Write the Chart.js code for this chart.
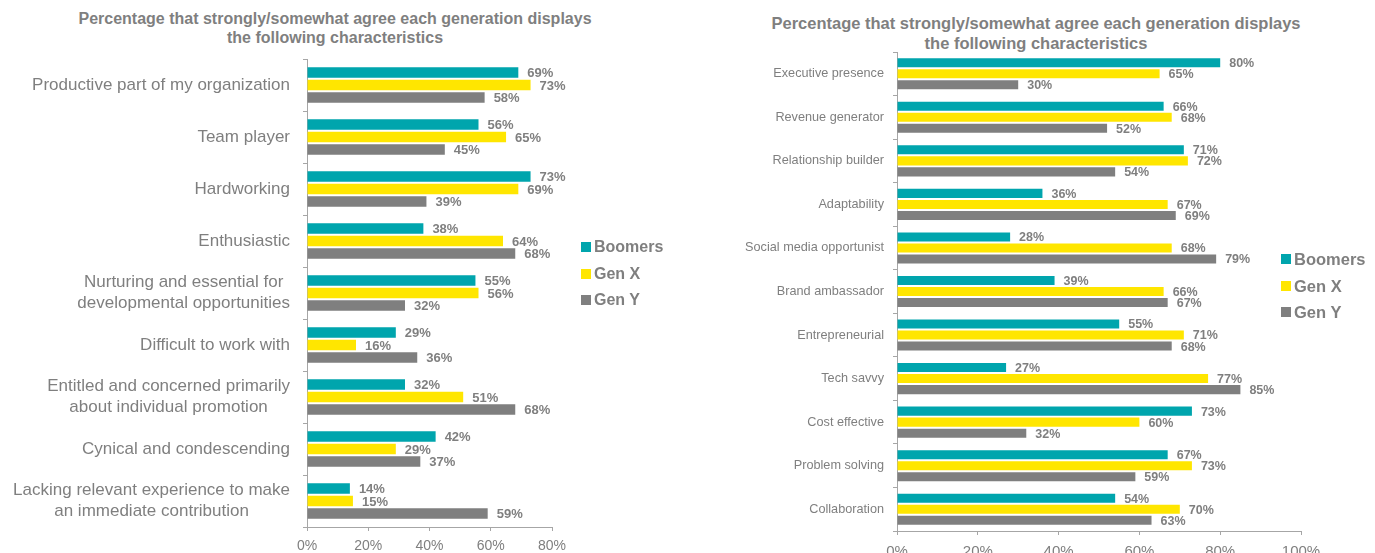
<!DOCTYPE html>
<html><head><meta charset="utf-8">
<script src="https://cdn.jsdelivr.net/npm/chart.js@4.4.1/dist/chart.umd.min.js"></script>
<style>
html,body{margin:0;padding:0;background:#fff;width:1375px;height:553px;overflow:hidden;position:relative;font-family:"Liberation Sans",Arial,sans-serif;}
.title{position:absolute;text-align:center;font-weight:bold;color:#7f7f7f;white-space:nowrap;}
.lg{position:absolute;font-weight:bold;color:#7f7f7f;font-size:16px;line-height:20px;white-space:nowrap;}
.sw{position:absolute;width:10px;height:10px;}
canvas{position:absolute;top:0;}
</style></head>
<body>
<div class="title" id="t1" style="left:0;width:670px;top:9px;font-size:16px;line-height:19px;"></div>
<div class="title" id="t2" style="left:700px;width:672px;top:13px;font-size:16.5px;line-height:20px;"></div>
<canvas id="c1" width="600" height="553" style="left:0;"></canvas>
<canvas id="c2" width="675" height="553" style="left:700px;"></canvas>
<div id="lg1"></div>
<div id="lg2"></div>
<script>
// ---- data ----
const titleLines = ["Percentage that strongly/somewhat agree each generation displays", "the following characteristics"];
const seriesNames = ["Boomers", "Gen X", "Gen Y"];
const seriesColors = ["#00A5AD", "#FFE600", "#7F7F7F"];

const leftCategories = [
  ["Productive part of my organization"],
  ["Team player"],
  ["Hardworking"],
  ["Enthusiastic"],
  ["Nurturing and essential for", "developmental opportunities"],
  ["Difficult to work with"],
  ["Entitled and concerned primarily", "about individual promotion"],
  ["Cynical and condescending"],
  ["Lacking relevant experience to make", "an immediate contribution"]
];
const leftBoomers = [69, 56, 73, 38, 55, 29, 32, 42, 14];
const leftGenX    = [73, 65, 69, 64, 56, 16, 51, 29, 15];
const leftGenY    = [58, 45, 39, 68, 32, 36, 68, 37, 59];
const leftTicks = [0, 20, 40, 60, 80];

const rightCategories = ["Executive presence", "Revenue generator", "Relationship builder", "Adaptability",
  "Social media opportunist", "Brand ambassador", "Entrepreneurial", "Tech savvy", "Cost effective",
  "Problem solving", "Collaboration"];
const rightBoomers = [80, 66, 71, 36, 28, 39, 55, 27, 73, 67, 54];
const rightGenX    = [65, 68, 72, 67, 68, 66, 71, 77, 60, 73, 70];
const rightGenY    = [30, 52, 54, 69, 79, 67, 68, 85, 32, 59, 63];
const rightTicks = [0, 20, 40, 60, 80, 100];

// ---- titles & legends (HTML text) ----
document.getElementById('t1').innerHTML = titleLines.join('<br>');
document.getElementById('t2').innerHTML = titleLines.join('<br>');
function buildLegend(id, x, ys, fs) {
  const el = document.getElementById(id);
  seriesNames.forEach((n, i) => {
    const sw = document.createElement('div');
    sw.className = 'sw';
    sw.style.left = x + 'px'; sw.style.top = (ys[i] - 5) + 'px';
    sw.style.background = seriesColors[i];
    el.appendChild(sw);
    const t = document.createElement('div');
    t.className = 'lg';
    t.style.fontSize = fs + 'px';
    t.style.left = (x + 13) + 'px'; t.style.top = (ys[i] - 10) + 'px';
    t.textContent = n;
    el.appendChild(t);
  });
}
buildLegend('lg1', 581, [247, 274, 300], 16);
buildLegend('lg2', 1281, [259, 286, 312], 16.5);

// ---- plugins ----
const valueLabels = {
  id: 'valueLabels',
  afterDatasetsDraw(chart, args, opts) {
    const ctx = chart.ctx;
    ctx.save();
    ctx.font = 'bold ' + opts.size + 'px "Liberation Sans", Arial, sans-serif';
    ctx.fillStyle = '#7f7f7f';
    ctx.textAlign = 'left';
    ctx.textBaseline = 'middle';
    chart.data.datasets.forEach((ds, di) => {
      chart.getDatasetMeta(di).data.forEach((bar, i) => {
        ctx.fillText(ds.data[i] + '%', bar.x + 9, bar.y + 1);
      });
    });
    ctx.restore();
  }
};
const customYLabels = {
  id: 'customYLabels',
  afterDraw(chart, args, opts) {
    if (!opts.enabled) return;
    const ctx = chart.ctx, ys = chart.scales.y;
    ctx.save();
    ctx.font = opts.size + 'px "Liberation Sans", Arial, sans-serif';
    ctx.fillStyle = '#7f7f7f';
    ctx.textAlign = 'center';
    ctx.textBaseline = 'middle';
    const labels = chart.data.labels;
    labels.forEach((lines, i) => {
      const cy = ys.getPixelForValue(i);
      const w = Math.max(...lines.map(l => ctx.measureText(l).width));
      const cx = opts.right - w / 2;
      const n = lines.length;
      lines.forEach((l, k) => {
        ctx.fillText(l, cx, cy + (k - (n - 1) / 2) * opts.lineHeight);
      });
    });
    ctx.restore();
  }
};

function makeChart(id, cats, b, x, y, ticks, cfg) {
  const axisColor = '#A6A6A6';
  return new Chart(document.getElementById(id), {
    type: 'bar',
    data: {
      labels: cats,
      datasets: [b, x, y].map((d, i) => ({
        label: seriesNames[i], data: d, backgroundColor: seriesColors[i],
        categoryPercentage: cfg.catPct, barPercentage: cfg.barPct
      }))
    },
    options: {
      indexAxis: 'y', responsive: false, animation: false,
      layout: { padding: { top: cfg.top, right: cfg.padRight, left: 0, bottom: 0 } },
      scales: {
        x: {
          type: 'linear', min: ticks[0], max: ticks[ticks.length - 1],
          afterBuildTicks: s => { s.ticks = ticks.map(v => ({ value: v })); },
          afterFit: s => { s.height = cfg.xHeight; },
          ticks: { callback: v => v + '%', color: '#7f7f7f', padding: cfg.xPad,
                   font: { family: '"Liberation Sans", Arial, sans-serif', size: cfg.xFont } },
          grid: { drawOnChartArea: false, drawTicks: true, tickLength: 4, color: axisColor },
          border: { color: axisColor, width: 1 }
        },
        y: {
          afterFit: s => { s.width = cfg.yWidth; },
          ticks: { display: !cfg.customY, color: '#7f7f7f', padding: 9,
                   font: { family: '"Liberation Sans", Arial, sans-serif', size: cfg.yFont } },
          grid: { offset: true, drawOnChartArea: false, drawTicks: true, tickLength: 4, color: axisColor },
          border: { color: axisColor, width: 1 }
        }
      },
      plugins: {
        legend: { display: false }, tooltip: { enabled: false }, title: { display: false },
        valueLabels: { size: cfg.valFont },
        customYLabels: { enabled: cfg.customY, right: 290, size: 17, lineHeight: 21 }
      }
    },
    plugins: [valueLabels, customYLabels]
  });
}

makeChart('c1', leftCategories, leftBoomers, leftGenX, leftGenY, leftTicks, {
  catPct: 0.72, barPct: 0.84, top: 59, padRight: 48, xHeight: 26, xPad: 7, xFont: 14,
  yWidth: 307, customY: true, yFont: 17, valFont: 13
});
makeChart('c2', rightCategories, rightBoomers, rightGenX, rightGenY, rightTicks, {
  catPct: 0.76, barPct: 0.82, top: 52, padRight: 74, xHeight: 22, xPad: 8, xFont: 15,
  yWidth: 197, customY: false, yFont: 12.7, valFont: 12.5
});
</script>
</body></html>
